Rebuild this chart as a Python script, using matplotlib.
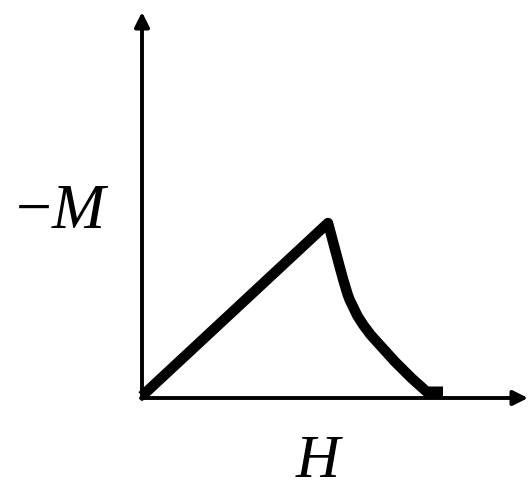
import matplotlib
matplotlib.use("Agg")
import matplotlib.pyplot as plt

# Schematic -M(H) curve: linear rise, then a concave decay back to the axis.
H_vals = [0.0, 1.86, 1.90, 1.94, 1.98, 2.013, 2.055, 2.076, 2.097, 2.155,
          2.213, 2.288, 2.363, 2.53, 2.697, 2.847, 3.01]
negM_vals = [0.0, 1.73, 1.58, 1.43, 1.28, 1.16, 1.02, 0.963, 0.92, 0.80,
             0.71, 0.61, 0.527, 0.343, 0.177, 0.043, 0.043]

x_label = r"$H$"
y_label = r"$-M$"

plt.rcParams["mathtext.fontset"] = "custom"
plt.rcParams["mathtext.it"] = "Liberation Serif:italic"
plt.rcParams["mathtext.rm"] = "Liberation Serif"

fig = plt.figure(figsize=(5.32, 4.94), dpi=100)
ax = fig.add_axes([0, 0, 1, 1])
ax.set_xlim(-1.42, 3.90)
ax.set_ylim(-0.98, 3.96)
ax.axis("off")

# axes with arrow heads
arrow = dict(arrowstyle="-|>", color="black", lw=2.8, mutation_scale=22,
             shrinkA=0, shrinkB=0)
ax.annotate("", xy=(3.86, -0.02), xytext=(-0.01, -0.02), arrowprops=arrow)
ax.annotate("", xy=(0.0, 3.84), xytext=(0.0, -0.03), arrowprops=arrow)

ax.plot(H_vals, negM_vals, color="black", lw=7.5, solid_capstyle="butt",
        solid_joinstyle="round")

ax.text(-0.80, 1.86, y_label, fontsize=46, ha="center", va="center")
ax.text(1.78, -0.64, x_label, fontsize=44, ha="center", va="center")

fig.savefig("out.png", dpi=100)
